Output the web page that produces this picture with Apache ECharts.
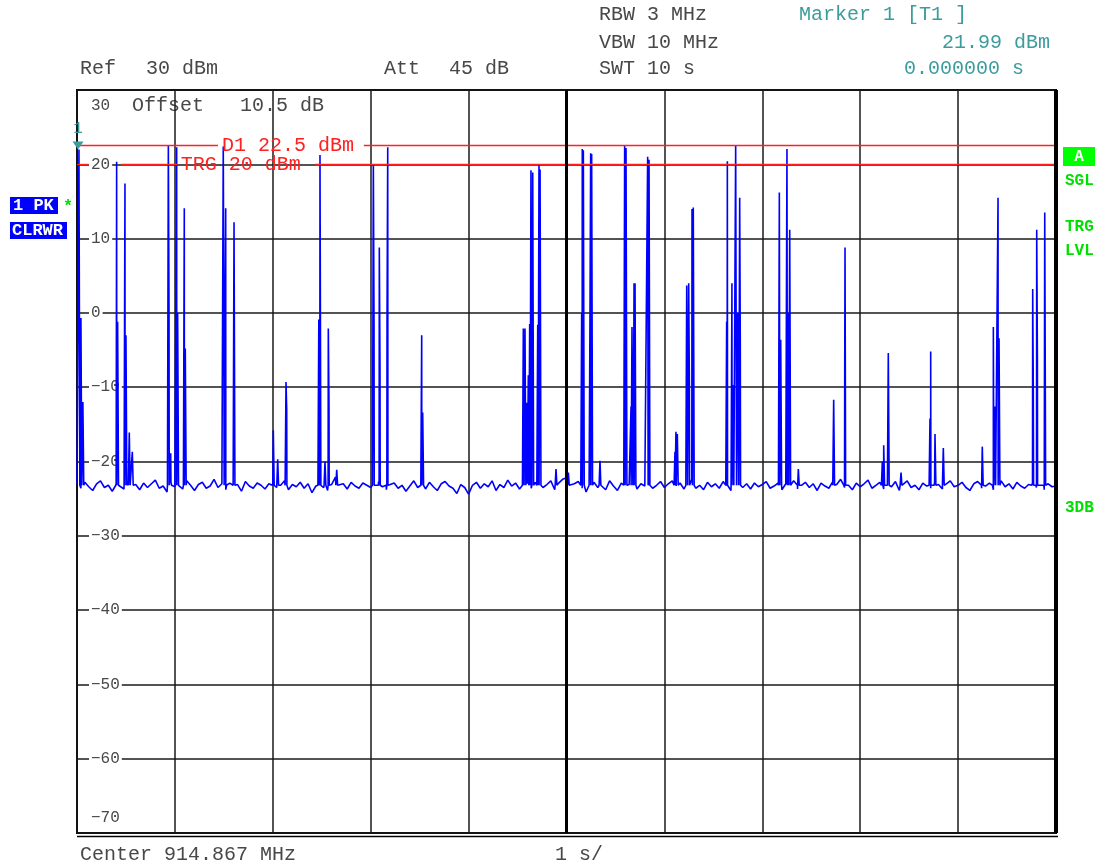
<!DOCTYPE html>
<html>
<head>
<meta charset="utf-8">
<script src="https://cdn.jsdelivr.net/npm/echarts@6/dist/echarts.min.js"></script>
<style>
html, body { margin: 0; padding: 0; background: #fff; }
#box { width: 1099px; height: 867px; }
</style>
</head>
<body>
<div id="box"></div>
<script>
// zero span trace (time in s, level in dBm)
var floorStep = 0.04;
var floorLevels = [
  -23.1,-23.6,-22.8,-23.4,-23.9,-23.0,-22.6,-23.5,-23.2,-24.0,-22.9,-23.3,-23.7,-22.7,-23.4,-23.1,-23.8,-22.9,-23.5,-23.0,-22.5,-23.6,-23.3,-24.1,-22.8,
  -23.4,-23.0,-23.7,-22.6,-23.2,-23.9,-23.1,-22.8,-23.6,-23.3,-22.4,-23.5,-23.0,-23.8,-22.9,-23.4,-23.1,-24.0,-22.7,-23.3,-23.6,-22.9,-23.2,-23.7,-23.0,
  -22.9,-23.5,-23.2,-22.6,-23.8,-23.1,-23.4,-22.8,-23.6,-23.0,-24.2,-23.3,-22.7,-23.5,-23.9,-23.1,-22.1,-23.4,-23.0,-23.7,-22.8,-23.3,-23.6,-22.9,-23.2,
  -23.5,-23.0,-22.7,-23.4,-23.8,-23.1,-22.9,-23.6,-23.2,-24.0,-23.3,-22.6,-23.5,-23.1,-23.7,-22.8,-23.4,-23.9,-23.0,-22.7,-23.3,-23.6,-24.3,-23.1,-23.5,
  -24.4,-23.2,-22.8,-23.6,-23.0,-23.4,-22.6,-23.9,-23.1,-23.5,-22.5,-23.3,-22.9,-23.7,-22.3,-23.0,-23.6,-22.8,-23.2,-23.5,-23.1,-22.6,-23.8,-22.9,-22.4,
  -22.2,-23.4,-23.0,-22.7,-23.6,-24.1,-23.2,-22.8,-23.5,-23.0,-23.8,-22.6,-23.3,-23.9,-22.9,-23.4,-23.1,-22.5,-23.7,-23.0,-23.3,-22.8,-23.6,-23.2,-22.7,
  -23.5,-23.0,-22.6,-23.3,-22.9,-23.7,-23.1,-22.4,-23.6,-23.2,-23.8,-22.8,-23.4,-23.0,-23.6,-22.7,-23.3,-23.9,-23.1,-22.8,-23.5,-23.0,-23.7,-22.9,-23.4,
  -23.1,-22.7,-23.6,-23.3,-22.9,-23.8,-23.0,-23.4,-22.6,-23.7,-23.2,-22.8,-23.5,-23.0,-23.9,-22.9,-23.3,-23.6,-22.7,-23.1,-22.4,-23.5,-23.2,-23.8,-22.9,
  -23.4,-23.0,-22.5,-23.6,-23.2,-22.8,-23.7,-23.1,-23.4,-22.7,-23.9,-23.0,-22.6,-23.5,-23.2,-23.8,-22.9,-23.3,-23.6,-22.8,-23.1,-23.7,-23.0,-22.6,-23.4,
  -23.2,-22.8,-23.5,-23.9,-23.0,-22.7,-23.6,-23.3,-22.9,-23.8,-23.1,-22.6,-23.4,-23.0,-23.7,-22.8,-23.3,-23.6,-23.1,-22.9,-23.5,-23.2,-23.8,-23.0,-23.4,
  -23.3
];
var spikeBase = -23.2;
var spikeTimes = [
  0.02, 0.04, 0.06, 0.405, 0.415, 0.49, 0.50, 0.534, 0.565,
  0.933, 0.94, 0.957, 1.018, 1.028, 1.096, 1.106, 1.494, 1.50, 1.519, 1.604,
  2.005, 2.05, 2.135, 2.142, 2.47, 2.482, 2.533, 2.567, 2.574, 2.653,
  3.027, 3.034, 3.088, 3.095, 3.167, 3.174, 3.521, 3.531,
  4.559, 4.576, 4.594, 4.61, 4.624, 4.637, 4.655, 4.706, 4.719, 4.73, 4.893,
  5.019, 5.155, 5.161, 5.172, 5.24, 5.247, 5.257, 5.342, 5.594, 5.608, 5.659, 5.669, 5.69, 5.70, 5.829, 5.843,
  6.108, 6.118, 6.132, 6.228, 6.248, 6.255, 6.282, 6.295, 6.636, 6.643, 6.69, 6.70, 6.728, 6.749, 6.769, 6.775,
  7.174, 7.188, 7.252, 7.265, 7.28, 7.368, 7.729, 7.842, 7.845,
  8.226, 8.24, 8.287, 8.417, 8.713, 8.72, 8.764, 8.849,
  9.247, 9.36, 9.374, 9.408, 9.418, 9.762, 9.768, 9.803, 9.81, 9.885
];
var spikeLevels = [
  21.99, -0.7, -12, 20.35, -1.2, 17.4, -3, -16.1, -18.7,
  22.5, 0, -18.9, 22.3, 0, 14.1, -4.8, 22.4, 0, 14.1, 12.2,
  -15.8, -19.7, -9.3, -13, -0.9, 21.25, -20, -2.1, -12.5, -21.1,
  20, -1.6, 8.8, -7.2, 0, 22.3, -3, -13.4,
  -2.1, -2.1, -12.1, -8.4, -1.5, 19.2, 18.9, -1.6, 20, 19.3, -21,
  -21.5, 0, 22.06, 21.9, 0, 21.5, 21.4, -19.9, 22.5, 22.2, -12.6, -1.9, 4, 4, 21.0, 20.6,
  -18.7, -16, -16.3, 3.7, 4, -9.7, 14, 14.2, -1.2, 20.4, 4, -9.7, 22.5, 0, 15.5, -3.5,
  16.2, -3.6, 22.06, 0, 11.2, -21, -11.7, -7.2, 8.8,
  -20, -17.8, -5.4, -21.5, -14.2, -5.2, -16.3, -18.2,
  -18, -1.9, -12.6, 15.5, -3.4, 3.2, -9.9, 11.2, -5.9, 13.5
];
var yTicks = [30, 20, 10, 0, -10, -20, -30, -40, -50, -60, -70];
var yTickLabels = ["30", "20", "10", "0", "\u221210", "\u221220", "\u221230", "\u221240", "\u221250", "\u221260", "\u221270"];
var displayLine = 22.5;
var triggerLevel = 20;
var marker1 = [0, 21.99];

var mono = "'Liberation Mono', 'DejaVu Sans Mono', monospace";
var grey = "#484848";
var teal = "#3c9c9c";
var red = "#ff2020";
var green = "#00e000";

// floor + spikes, merged in time order
var trace = [];
for (var i = 0; i < floorLevels.length; i++) {
  trace.push([i * floorStep, floorLevels[i]]);
}
for (var j = 0; j < spikeTimes.length; j++) {
  var t = spikeTimes[j];
  trace.push([t - 0.009, spikeBase], [t, spikeLevels[j]], [t + 0.009, spikeBase]);
}
trace.sort(function (a, b) { return a[0] - b[0]; });

function txt(x, y, s, color, size, align, bold) {
  return {
    type: "text", x: x, y: y, silent: true,
    style: {
      text: s, fill: color, textAlign: align || "left", textVerticalAlign: "middle",
      font: (bold ? "bold " : "") + size + "px " + mono
    }
  };
}

var chart = echarts.init(document.getElementById("box"));
var option = {
  animation: false,
  backgroundColor: "#fff",
  grid: { left: 77, top: 90, right: 43, bottom: 34, show: true, borderColor: "#000", borderWidth: 2 },
  xAxis: {
    type: "value", min: 0, max: 10, interval: 1,
    axisLabel: { show: false }, axisTick: { show: false }, axisLine: { show: false },
    splitLine: { show: true, lineStyle: { color: "#1a1a1a", width: 1.5 } }
  },
  yAxis: {
    type: "value", min: -70, max: 30, interval: 10,
    axisTick: { show: false }, axisLine: { show: false },
    splitLine: { show: true, lineStyle: { color: "#1a1a1a", width: 1.5 } },
    axisLabel: {
      inside: true, margin: 12,
      verticalAlignMinLabel: "bottom", verticalAlignMaxLabel: "top",
      formatter: function (v) {
        var s = yTickLabels[yTicks.indexOf(v)];
        if (v === 30) return "{top|" + s + "}";
        if (v === -70) return "{bot|" + s + "}";
        return "{mid|" + s + "}";
      },
      rich: {
        mid: { color: grey, fontSize: 16, fontFamily: mono, backgroundColor: "#fff", padding: [1, 2, 1, 2] },
        top: { color: grey, fontSize: 16, fontFamily: mono, padding: [8, 2, 0, 2] },
        bot: { color: grey, fontSize: 16, fontFamily: mono, padding: [0, 2, 7, 2] }
      }
    }
  },
  series: [
    {
      type: "line", data: trace, showSymbol: false, z: 3,
      lineStyle: { color: "#0000ff", width: 1.6 },
      markPoint: {
        silent: true,
        data: [{ coord: marker1 }],
        symbol: "triangle", symbolRotate: 180, symbolSize: [11, 8], symbolOffset: [1, -4],
        itemStyle: { color: teal },
        label: { show: true, formatter: "1", position: "top", distance: 5, color: teal, fontSize: 16, fontFamily: mono }
      }
    },
    {
      type: "line", data: [], z: 4,
      markLine: {
        silent: true, symbol: ["none", "none"],
        lineStyle: { color: red, width: 1.3, type: "solid" },
        label: { show: false },
        data: [
          [{ coord: [0, displayLine], label: { show: true, position: "end", distance: 4, formatter: "D1 22.5 dBm", color: red, fontSize: 20, fontFamily: mono } }, { coord: [1.44, displayLine] }],
          [{ coord: [2.93, displayLine] }, { coord: [10, displayLine] }],
          [{ coord: [0, triggerLevel] }, { coord: [0.12, triggerLevel] }],
          [{ coord: [0.45, triggerLevel], label: { show: true, position: "end", distance: 3, formatter: "TRG 20 dBm", color: red, fontSize: 20, fontFamily: mono } }, { coord: [1.03, triggerLevel] }],
          [{ coord: [2.43, triggerLevel] }, { coord: [10, triggerLevel] }]
        ]
      }
    },
    {
      type: "line", data: [], z: 2,
      markLine: {
        silent: true, symbol: ["none", "none"], label: { show: false },
        lineStyle: { color: "#000", type: "solid" },
        data: [
          { xAxis: 5, lineStyle: { width: 3 } },
          { xAxis: 10, lineStyle: { width: 4 } }
        ]
      }
    }
  ],
  graphic: [
    txt(599, 15, "RBW 3 MHz", grey, 20),
    txt(599, 43, "VBW 10 MHz", grey, 20),
    txt(599, 69, "SWT 10 s", grey, 20),
    txt(799, 15, "Marker 1 [T1 ]", teal, 20),
    txt(1050, 43, "21.99 dBm", teal, 20, "right"),
    txt(1024, 69, "0.000000 s", teal, 20, "right"),
    txt(80, 69, "Ref", grey, 20),
    txt(146, 69, "30 dBm", grey, 20),
    txt(384, 69, "Att", grey, 20),
    txt(449, 69, "45 dB", grey, 20),
    txt(132, 106, "Offset   10.5 dB", grey, 20),
    txt(80, 855, "Center 914.867 MHz", grey, 20),
    txt(555, 855, "1 s/", grey, 20),
    { type: "line", silent: true, shape: { x1: 77, y1: 836.5, x2: 1058, y2: 836.5 }, style: { stroke: "#000", lineWidth: 1.5 } },
    { type: "rect", silent: true, shape: { x: 10, y: 197, width: 48, height: 17 }, style: { fill: "#0000ff" } },
    txt(13, 206, "1 PK", "#fff", 17, "left", true),
    txt(63, 207, "*", green, 17, "left", true),
    { type: "rect", silent: true, shape: { x: 10, y: 222, width: 57, height: 17 }, style: { fill: "#0000ff" } },
    txt(12, 231, "CLRWR", "#fff", 17, "left", true),
    { type: "rect", silent: true, shape: { x: 1063, y: 147, width: 32, height: 19 }, style: { fill: "#00ff00" } },
    txt(1079, 157, "A", "#fff", 16, "center", true),
    txt(1065, 181, "SGL", green, 16, "left", true),
    txt(1065, 227, "TRG", green, 16, "left", true),
    txt(1065, 251, "LVL", green, 16, "left", true),
    txt(1065, 508, "3DB", green, 16, "left", true)
  ]
};
chart.setOption(option);
</script>
</body>
</html>
